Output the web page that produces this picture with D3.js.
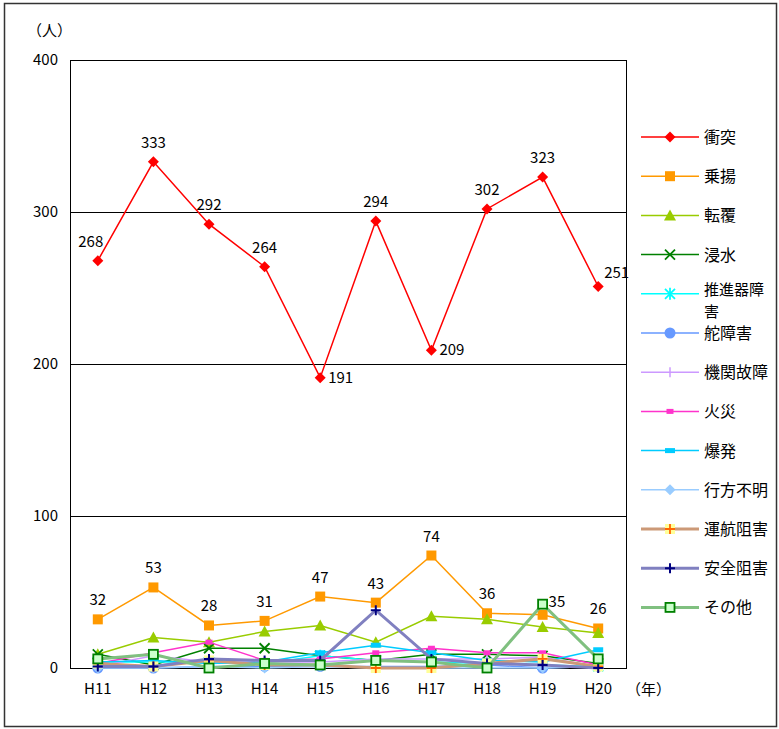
<!DOCTYPE html>
<html><head><meta charset="utf-8">
<script src="https://cdn.jsdelivr.net/npm/d3@7/dist/d3.min.js"></script>
<style>
body{margin:0;background:#fff;}
svg text{font-family:"Liberation Sans Narrow","Noto Sans CJK JP",sans-serif;}
.jp{font-family:"Noto Sans CJK JP",sans-serif;}
</style></head><body>
<svg id="c" width="779" height="729"></svg>
<script>
const categories = ["H11","H12","H13","H14","H15","H16","H17","H18","H19","H20"];
const yTicks = [0,100,200,300,400];
const seriesNames = ["衝突","乗揚","転覆","浸水","推進器障害","舵障害","機関故障","火災","爆発","行方不明","運航阻害","安全阻害","その他"];
const shototsu   = [268,333,292,264,191,294,209,302,323,251];
const noriage    = [32,53,28,31,47,43,74,36,35,26];
const tenpuku    = [9,20,17,24,28,17,34,32,27,23];
const shinsui    = [9,2,13,13,8,5,9,9,8,3];
const suishinki  = [4,4,4,3,8,5,4,3,2,1];
const kaji       = [0,0,1,1,1,1,1,2,0,1];
const kikan      = [1,8,4,4,4,6,6,6,7,1];
const kasai      = [3,10,17,5,6,10,13,10,10,2];
const bakuhatsu  = [4,5,3,4,10,15,10,5,4,12];
const yukue      = [0,0,1,0,1,0,0,0,0,1];
const unko       = [3,1,5,2,2,0,0,3,6,1];
const anzen      = [1,1,6,5,5,38,6,3,2,0];
const sonota     = [6,9,0,3,2,5,4,0,42,6];
const shototsuLabelPos = ["aboveleft","above","above","above","right","above","right","above","above","upright"];
const noriageLabelPos  = ["above","above","above","above","above","above","above","above","upright","above"];

const values = [shototsu,noriage,tenpuku,shinsui,suishinki,kaji,kikan,kasai,bakuhatsu,yukue,unko,anzen,sonota];
const styles = [
 {line:"#ff0000",w:1.5,m:"diamond",c:"#ff0000"},
 {line:"#ff9900",w:1.5,m:"square",c:"#ff9900"},
 {line:"#99cc00",w:1.5,m:"triangle",c:"#99cc00"},
 {line:"#008000",w:1.5,m:"x",c:"#008000"},
 {line:"#00ffff",w:1.5,m:"star",c:"#00ffff"},
 {line:"#6699ff",w:1.5,m:"circle",c:"#6699ff"},
 {line:"#cc99ff",w:1.5,m:"vbar",c:"#cc99ff"},
 {line:"#ff33cc",w:1.5,m:"smallrect",c:"#ff33cc"},
 {line:"#00ccff",w:1.5,m:"widerect",c:"#00ccff"},
 {line:"#99ccff",w:1.5,m:"diamond",c:"#99ccff"},
 {line:"#cc9977",w:3,m:"plusbox",c:"#ff6600",bg:"#ffff99"},
 {line:"#8080c0",w:3,m:"plus",c:"#000080"},
 {line:"#80c080",w:3,m:"greensq",c:"#008000",bg:"#ccffcc"}
];

const svg = d3.select("#c");
const L=70,R=626,T=60,B=668;
const x = d3.scaleBand().domain(categories).range([L,R]);
const y = d3.scaleLinear().domain([0,400]).range([B,T]);
const cx = d => x(d)+x.bandwidth()/2;

// outer frame
svg.append("rect").attr("x",4.5).attr("y",3.5).attr("width",772).attr("height",723)
  .attr("fill","none").attr("stroke","#333").attr("stroke-width",1.5);

// grid
svg.append("g").selectAll("line").data(yTicks.filter(t=>t>0&&t<400)).join("line")
  .attr("x1",L).attr("x2",R).attr("y1",d=>y(d)+0.5).attr("y2",d=>y(d)+0.5)
  .attr("stroke","#000").attr("stroke-width",1).attr("shape-rendering","crispEdges");
svg.append("rect").attr("x",L+0.5).attr("y",T+0.5).attr("width",R-L).attr("height",B-T)
  .attr("fill","none").attr("stroke","#000").attr("stroke-width",1).attr("shape-rendering","crispEdges");

// y axis labels
const ya = svg.append("g").attr("transform",`translate(${L},0)`)
  .call(d3.axisLeft(y).tickValues(yTicks).tickSize(0).tickPadding(12).tickFormat(d3.format("d")));
ya.select(".domain").remove();
ya.selectAll("text").attr("font-size",15).attr("fill","#000")
  .style("font-family",'"Liberation Sans Narrow","Noto Sans CJK JP",sans-serif');

// x axis labels
const xa = svg.append("g").attr("transform",`translate(0,${B})`)
  .call(d3.axisBottom(x).tickSize(0).tickPadding(15));
xa.select(".domain").remove();
xa.selectAll("text").attr("font-size",15).attr("fill","#000")
  .style("font-family",'"Liberation Sans Narrow","Noto Sans CJK JP",sans-serif');

svg.append("text").attr("class","jp").attr("x",27).attr("y",36).attr("font-size",15).text("（人）");
svg.append("text").attr("class","jp").attr("x",626).attr("y",695).attr("font-size",15).text("（年）");

function marker(g, st, px, py){
  const s=5;
  switch(st.m){
    case "diamond": g.append("path").attr("d",`M${px},${py-s-0.5}L${px+s+0.5},${py}L${px},${py+s+0.5}L${px-s-0.5},${py}Z`).attr("fill",st.c); break;
    case "square": g.append("rect").attr("x",px-s).attr("y",py-s).attr("width",2*s).attr("height",2*s).attr("fill",st.c); break;
    case "triangle": g.append("path").attr("d",`M${px},${py-s-1}L${px+s+1},${py+s}L${px-s-1},${py+s}Z`).attr("fill",st.c); break;
    case "x": g.append("path").attr("d",`M${px-s},${py-s}L${px+s},${py+s}M${px+s},${py-s}L${px-s},${py+s}`).attr("stroke",st.c).attr("stroke-width",1.8); break;
    case "star": g.append("path").attr("d",`M${px-s},${py-s}L${px+s},${py+s}M${px+s},${py-s}L${px-s},${py+s}M${px},${py-s-1}L${px},${py+s+1}`).attr("stroke",st.c).attr("stroke-width",1.8); break;
    case "circle": g.append("circle").attr("cx",px).attr("cy",py).attr("r",s+0.5).attr("fill",st.c); break;
    case "vbar": g.append("path").attr("d",`M${px},${py-s}L${px},${py+s}`).attr("stroke",st.c).attr("stroke-width",1.5); break;
    case "smallrect": g.append("rect").attr("x",px-3.5).attr("y",py-2.5).attr("width",7).attr("height",5).attr("fill",st.c); break;
    case "widerect": g.append("rect").attr("x",px-5).attr("y",py-2.5).attr("width",10).attr("height",5).attr("fill",st.c); break;
    case "plusbox":
      g.append("rect").attr("x",px-s).attr("y",py-s).attr("width",2*s).attr("height",2*s).attr("fill",st.bg);
      g.append("path").attr("d",`M${px-s},${py}L${px+s},${py}M${px},${py-s}L${px},${py+s}`).attr("stroke",st.c).attr("stroke-width",1.8); break;
    case "plus": g.append("path").attr("d",`M${px-s},${py}L${px+s},${py}M${px},${py-s}L${px},${py+s}`).attr("stroke",st.c).attr("stroke-width",2); break;
    case "greensq": g.append("rect").attr("x",px-s+0.5).attr("y",py-s+0.5).attr("width",2*s-1).attr("height",2*s-1).attr("fill",st.bg).attr("stroke",st.c).attr("stroke-width",1.8); break;
  }
}

const line = d3.line().x((d,i)=>cx(categories[i])).y(d=>y(d));
values.forEach((vals,k)=>{
  const st=styles[k];
  const g=svg.append("g");
  g.append("path").datum(vals).attr("d",line).attr("fill","none").attr("stroke",st.line).attr("stroke-width",st.w);
  vals.forEach((v,i)=>marker(g,st,cx(categories[i]),y(v)));
});

// data labels
function labels(vals,pos){
  vals.forEach((v,i)=>{
    const px=cx(categories[i]), py=y(v);
    let tx=px, ty=py-14, anchor="middle";
    if(pos[i]==="right"){tx=px+8;ty=py+5;anchor="start";}
    else if(pos[i]==="upright"){tx=px+6;ty=py-8;anchor="start";}
    else if(pos[i]==="aboveleft"){tx=px-7;ty=py-14;}
    svg.append("text").attr("x",tx).attr("y",ty).attr("text-anchor",anchor)
      .attr("font-size",15).text(v);
  });
}
labels(shototsu,shototsuLabelPos);
labels(noriage,noriageLabelPos);

// legend
const lg=svg.append("g");
seriesNames.forEach((n,k)=>{
  const st=styles[k], ly=137+k*39.2;
  lg.append("line").attr("x1",641).attr("x2",699).attr("y1",ly).attr("y2",ly).attr("stroke",st.line).attr("stroke-width",st.w);
  marker(lg,st,670,ly);
  if(n.length>4){
    const t=lg.append("text").attr("class","jp").attr("x",704).attr("y",ly+1).attr("font-size",15);
    t.append("tspan").attr("x",704).text(n.slice(0,4));
    t.append("tspan").attr("x",704).attr("dy",22).text(n.slice(4));
  } else {
    lg.append("text").attr("class","jp").attr("x",704).attr("y",ly+6).attr("font-size",16).text(n);
  }
});
</script></body></html>
